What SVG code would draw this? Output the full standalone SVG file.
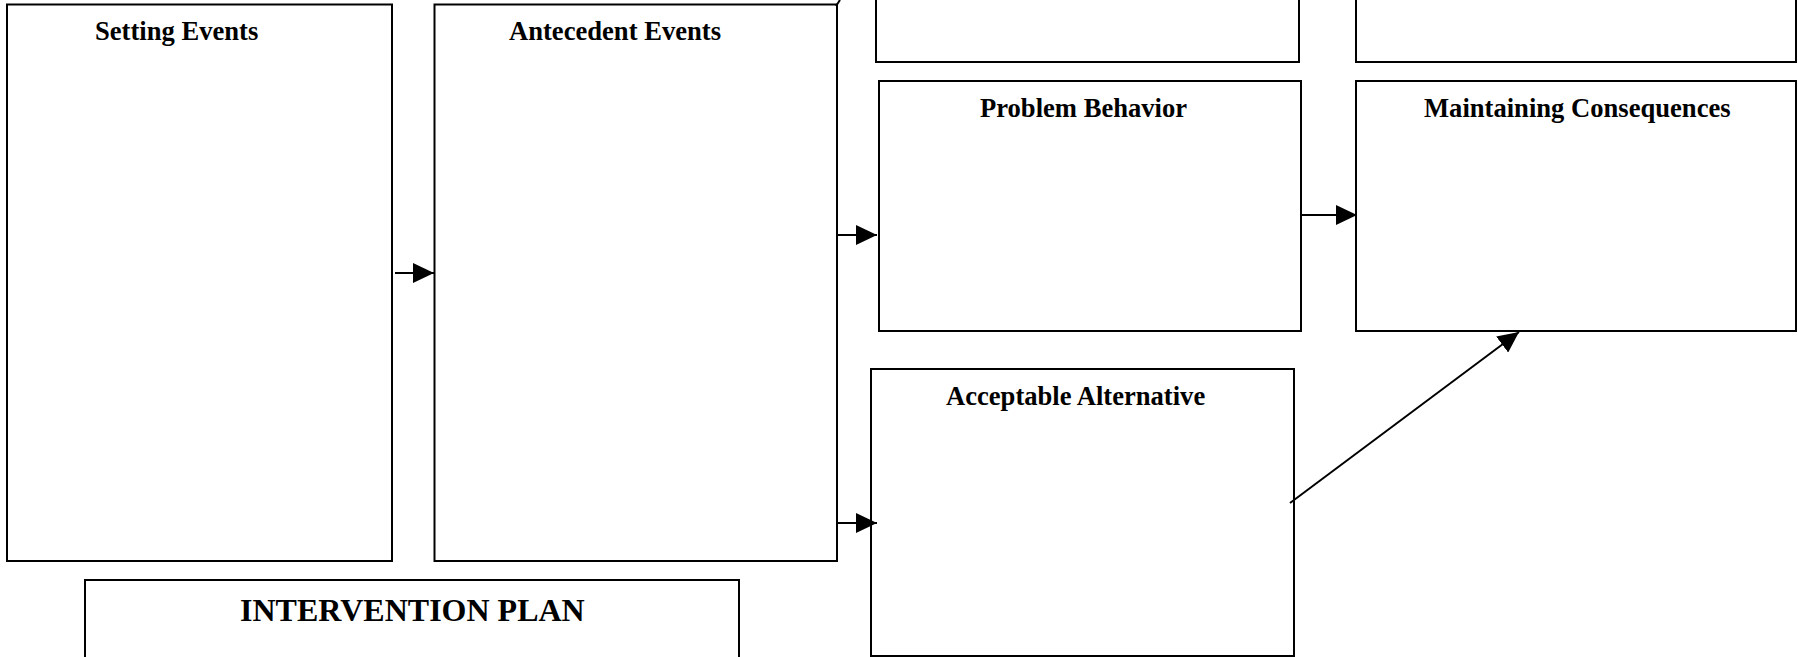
<svg xmlns="http://www.w3.org/2000/svg" width="1798" height="657" viewBox="0 0 1798 657">
<style>
.box{fill:#fff;stroke:#000;stroke-width:2}
.lbl{font-family:"Liberation Serif","Times New Roman",serif;font-weight:bold;font-size:26.6px;fill:#000}
.big{font-size:32px}
.con{stroke:#000;stroke-width:2;fill:none}
</style>
<defs>
<marker id="ah" markerWidth="21" markerHeight="20" refX="21" refY="10" orient="auto" markerUnits="userSpaceOnUse">
<path d="M0,0 L21,10 L0,20 Z" fill="#000"/>
</marker>
</defs>
<rect width="1798" height="657" fill="#fff"/>
<g id="top-box-1"><rect class="box" x="876" y="-10" width="423" height="72"/></g>
<g id="top-box-2"><rect class="box" x="1356" y="-10" width="440" height="72"/></g>
<g id="setting-events"><rect class="box" x="7" y="4.5" width="385" height="556.5"/><text class="lbl" x="95" y="40">Setting Events</text></g>
<g id="antecedent-events"><rect class="box" x="434.5" y="4.5" width="402.5" height="556.5"/><text class="lbl" x="509" y="40">Antecedent Events</text></g>
<g id="problem-behavior"><rect class="box" x="879" y="81" width="422" height="250"/><text class="lbl" x="980" y="117">Problem Behavior</text></g>
<g id="maintaining-consequences"><rect class="box" x="1356" y="81" width="440" height="250"/><text class="lbl" x="1424" y="117">Maintaining Consequences</text></g>
<g id="acceptable-alternative"><rect class="box" x="871" y="369" width="423" height="287"/><text class="lbl" x="946" y="405">Acceptable Alternative</text></g>
<g id="intervention-plan"><rect class="box" x="85" y="580" width="654" height="90"/><text class="lbl big" x="240" y="621">INTERVENTION PLAN</text></g>
<g id="connectors">
<line class="con" x1="395" y1="273" x2="434" y2="273" marker-end="url(#ah)"/>
<line class="con" x1="837" y1="235" x2="877" y2="235" marker-end="url(#ah)"/>
<line class="con" x1="837" y1="523" x2="877" y2="523" marker-end="url(#ah)"/>
<line class="con" x1="1301" y1="215" x2="1357" y2="215" marker-end="url(#ah)"/>
<line class="con" x1="1290" y1="503" x2="1519" y2="332" marker-end="url(#ah)"/>
<line class="con" x1="836" y1="6" x2="840" y2="0"/>
</g>
</svg>
